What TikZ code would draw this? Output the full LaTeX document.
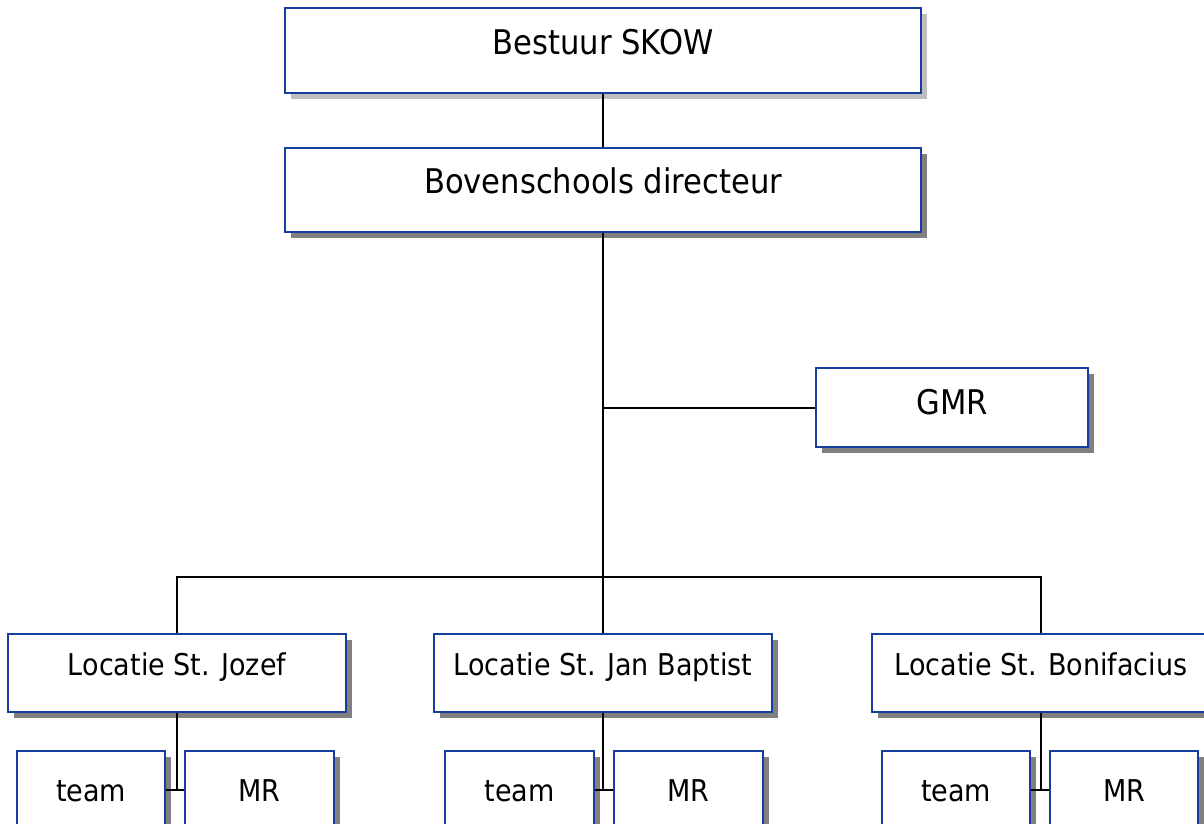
\documentclass[tikz,border=0pt]{standalone}
\usepackage{fontspec}
\setmainfont{DejaVu Sans}[FakeStretch=0.9]
\usetikzlibrary{shadows}
\definecolor{boxblue}{RGB}{22,62,160}
\definecolor{shadowgray}{RGB}{128,128,128}
\definecolor{lightshadow}{RGB}{190,190,190}
\begin{document}
\begin{tikzpicture}[x=1pt,y=-1pt,
  box/.style={draw=boxblue, line width=2.2pt, fill=white, inner sep=0pt, anchor=north west,
    drop shadow={shadow xshift=6pt, shadow yshift=-6pt, fill=shadowgray, opacity=1}},
  lightbox/.style={draw=boxblue, line width=2.2pt, fill=white, inner sep=0pt, anchor=north west,
    drop shadow={shadow xshift=6pt, shadow yshift=-6pt, fill=lightshadow, opacity=1}},
  bigtxt/.style={font=\fontsize{34}{40}\selectfont, text height=25pt, text depth=18pt},
  gmrtxt/.style={font=\fontsize{34}{40}\selectfont, text height=25pt, text depth=12pt},
  loctxt/.style={font=\fontsize{30}{36}\selectfont, text height=22pt, text depth=18pt},
  smalltxt/.style={font=\fontsize{30}{36}\selectfont, text height=22pt, text depth=0pt},
  conn/.style={draw=black, line width=2pt}]
\useasboundingbox (0,0) rectangle (1204,823);

\node[lightbox, bigtxt, minimum width=636pt, minimum height=85pt] (top) at (284,7) {Bestuur SKOW};
\node[box, bigtxt, minimum width=636pt, minimum height=84pt] (dir) at (284,147) {Bovenschools directeur};
\node[box, gmrtxt, minimum width=272pt, minimum height=79pt] (gmr) at (815,367) {GMR};

\node[box, loctxt, minimum width=338pt, minimum height=78pt] (loc1) at (7,633) {Locatie St. Jozef};
\node[box, loctxt, minimum width=338pt, minimum height=78pt] (loc2) at (433,633) {Locatie St. Jan Baptist};
\node[box, loctxt, minimum width=338pt, minimum height=78pt] (loc3) at (871,633) {Locatie St. Bonifacius};

\node[box, smalltxt, minimum width=148pt, minimum height=78pt] (team1) at (16,750) {team};
\node[box, smalltxt, minimum width=149pt, minimum height=78pt] (mr1) at (184,750) {MR};
\node[box, smalltxt, minimum width=149pt, minimum height=78pt] (team2) at (444,750) {team};
\node[box, smalltxt, minimum width=149pt, minimum height=78pt] (mr2) at (613,750) {MR};
\node[box, smalltxt, minimum width=148pt, minimum height=78pt] (team3) at (881,750) {team};
\node[box, smalltxt, minimum width=148pt, minimum height=78pt] (mr3) at (1049,750) {MR};

\path (dir.south |- 0,577) coordinate (bus);

\draw[conn] (top.south) -- (dir.north);
\draw[conn] (dir.south) -- (bus);
\draw[conn] (gmr.west) -- (gmr.west -| dir.south);
\draw[conn] (loc1.north) |- (bus) -| (loc3.north);
\draw[conn] (bus) -- (bus |- loc2.north);

\draw[conn] (loc1.south) -- (loc1.south |- team1.east);
\draw[conn] (team1.east) -- (mr1.west);
\draw[conn] (loc2.south) -- (loc2.south |- team2.east);
\draw[conn] (team2.east) -- (mr2.west);
\draw[conn] (loc3.south) -- (loc3.south |- team3.east);
\draw[conn] (team3.east) -- (mr3.west);
\end{tikzpicture}
\end{document}
